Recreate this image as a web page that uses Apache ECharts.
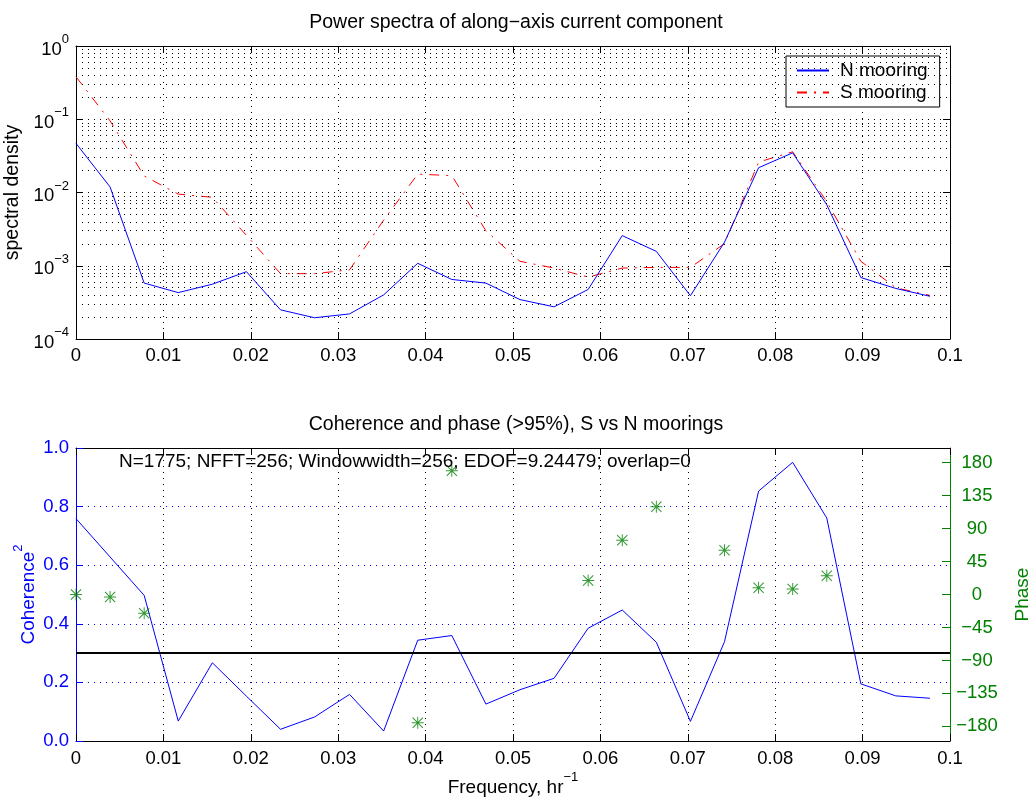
<!DOCTYPE html>
<html><head><meta charset="utf-8">
<script src="https://cdn.jsdelivr.net/npm/echarts@6/dist/echarts.min.js"></script>
<style>html,body{margin:0;padding:0;background:#fff}#c{width:1031px;height:800px}</style>
</head><body><div id="c"></div>
<script>
// ---- data ----
const freq = [0, 0.0039, 0.0078, 0.0117, 0.0156, 0.0195, 0.0234, 0.0273, 0.0313, 0.0352, 0.0391, 0.0430, 0.0469,
  0.0508, 0.0547, 0.0586, 0.0625, 0.0664, 0.0703, 0.0742, 0.0781, 0.0820, 0.0859, 0.0898, 0.0938, 0.0977];
const specN = [0.0468, 0.0119, 5.8e-4, 4.3e-4, 5.6e-4, 8.3e-4, 2.5e-4, 1.95e-4, 2.2e-4, 4.0e-4, 1.08e-3, 6.5e-4, 5.8e-4,
  3.45e-4, 2.75e-4, 4.75e-4, 2.58e-3, 1.57e-3, 3.9e-4, 2.1e-3, 0.0218, 0.0348, 6.8e-3, 6.9e-4, 4.9e-4, 3.83e-4];
const specS = [0.38, 0.095, 0.0168, 9.5e-3, 8.6e-3, 2.6e-3, 7.8e-4, 7.8e-4, 8.8e-4, 4.2e-3, 0.0178, 0.0170, 3.0e-3,
  1.15e-3, 9.3e-4, 7.0e-4, 9.3e-4, 9.5e-4, 9.5e-4, 2.0e-3, 0.026, 0.036, 7.5e-3, 1.15e-3, 5.0e-4, 3.94e-4];
const coherence = [0.759, 0.628, 0.497, 0.068, 0.267, 0.153, 0.040, 0.082, 0.159, 0.034, 0.344, 0.360, 0.126,
  0.175, 0.214, 0.385, 0.447, 0.337, 0.067, 0.339, 0.853, 0.951, 0.761, 0.195, 0.154, 0.146];
const phase = [0, -3.4, -25.6, null, null, null, null, null, null, null, -175, 169, null,
  null, null, 19.2, 74, 119.8, null, 60.5, 9.3, 7.5, 25.6, null, null, null];
const cohThreshold = 0.305;
const seriesNames = ['N mooring', 'S mooring'];
const phaseTicks = [-180, -135, -90, -45, 0, 45, 90, 135, 180];
const titles = ['Power spectra of along\u2212axis current component', 'Coherence and phase (>95%), S vs N moorings'];
const note = 'N=1775; NFFT=256; Windowwidth=256; EDOF=9.24479; overlap=0';

// ---- styling helpers ----
const FONT = '"Liberation Sans", Arial, Helvetica, sans-serif';
const FS = 18.5;
const BLUE = '#0000ff', RED = '#ff0000', GREEN = '#008000';
const minus = v => v < 0 ? '\u2212' + Math.abs(v) : String(v);
const fmtX = v => String(+v.toFixed(3));
// minor log grid positions (2..9 x each decade), expressed as log10 for a helper linear axis
const minorLogExp = [];
for (let d = -4; d < 0; d++) for (let m = 2; m <= 9; m++) minorLogExp.push(d + Math.log10(m));

const asterisk = 'path://M9.2 0L10.8 0L10.8 20L9.2 20Z M0 9.2L20 9.2L20 10.8L0 10.8Z M2.1 0.9L19.1 17.9L17.9 19.1L0.9 2.1Z M17.9 0.9L19.1 2.1L2.1 19.1L0.9 17.9Z';

const tickStyle = c => ({ show: true, inside: true, length: 7, lineStyle: { color: c, width: 1 } });
const labelStyle = c => ({ color: c, fontSize: FS, fontFamily: FONT });
const dottedSplit = c => ({ show: true, lineStyle: { color: c, type: [1, 5], width: 1 } });
const axLine = c => ({ show: true, onZero: false, lineStyle: { color: c, width: 1 } });

const chart = echarts.init(document.getElementById('c'), null, { renderer: 'canvas' });
chart.setOption({
  animation: false,
  backgroundColor: '#fff',
  grid: [
    { left: 76, right: 81, top: 46, height: 293, outerBoundsMode: 'none', containLabel: false },
    { left: 76, right: 81, top: 448, height: 293, outerBoundsMode: 'none', containLabel: false }
  ],
  legend: {
    data: seriesNames, orient: 'vertical', left: 786, top: 56,
    borderColor: '#000', borderWidth: 1, backgroundColor: '#fff', borderRadius: 0,
    padding: [5, 12, 5, 10], itemWidth: 32, itemHeight: 14, itemGap: 3,
    itemStyle: { color: 'rgba(0,0,0,0)', borderWidth: 0, opacity: 0 },
    textStyle: { fontSize: 19, fontFamily: FONT, color: '#000', padding: [0, 0, 0, 6] }
  },
  xAxis: [
    { gridIndex: 0, type: 'value', position: 'bottom', min: 0, max: 0.1, interval: 0.01,
      axisLine: axLine('#000'), axisTick: tickStyle('#000'),
      axisLabel: Object.assign(labelStyle('#000'), { margin: 7, formatter: fmtX }),
      splitLine: dottedSplit('#000') },
    { gridIndex: 0, type: 'value', position: 'top', min: 0, max: 0.1, interval: 0.01,
      axisLine: axLine('#000'), axisTick: tickStyle('#000'),
      axisLabel: { show: false }, splitLine: { show: false } },
    { gridIndex: 1, type: 'value', position: 'bottom', min: 0, max: 0.1, interval: 0.01,
      axisLine: axLine('#000'), axisTick: tickStyle('#000'),
      axisLabel: Object.assign(labelStyle('#000'), { margin: 8, formatter: fmtX }),
      splitLine: dottedSplit('#000'),
      name: '{a|Frequency, hr}{s|\u22121}', nameLocation: 'middle', nameGap: 30,
      nameTextStyle: { color: '#000', fontFamily: FONT, fontSize: 19,
        rich: { a: { fontSize: 19, fontFamily: FONT, color: '#000', lineHeight: 26, verticalAlign: 'bottom' },
                s: { fontSize: 13, fontFamily: FONT, color: '#000', lineHeight: 14, verticalAlign: 'top' } } } },
    { gridIndex: 1, type: 'value', position: 'top', min: 0, max: 0.1, interval: 0.01,
      axisLine: axLine('#000'), axisTick: tickStyle('#000'),
      axisLabel: { show: false }, splitLine: { show: false } }
  ],
  yAxis: [
    { gridIndex: 0, type: 'log', logBase: 10, min: 1e-4, max: 1, position: 'left',
      axisLine: axLine('#000'), axisTick: tickStyle('#000'),
      axisLabel: { margin: 7, formatter: v => '{b|10}{s|' + minus(Math.round(Math.log10(v))) + '}',
        rich: { b: { fontSize: FS, fontFamily: FONT, color: '#000', lineHeight: 26, verticalAlign: 'bottom' },
                s: { fontSize: 13, fontFamily: FONT, color: '#000', lineHeight: 14, verticalAlign: 'top' } } },
      splitLine: dottedSplit('#000'),
      name: 'spectral density', nameLocation: 'middle', nameGap: 44, nameRotate: 90,
      nameTextStyle: { color: '#000', fontSize: 19.5, fontFamily: FONT } },
    { gridIndex: 0, type: 'log', logBase: 10, min: 1e-4, max: 1, position: 'right',
      axisLine: axLine('#000'), axisTick: tickStyle('#000'),
      axisLabel: { show: false }, splitLine: { show: false } },
    { gridIndex: 1, type: 'value', min: 0, max: 1, interval: 0.2, position: 'left',
      axisLine: axLine(BLUE), axisTick: tickStyle(BLUE),
      axisLabel: Object.assign(labelStyle(BLUE), { margin: 7, formatter: v => v.toFixed(1) }),
      splitLine: dottedSplit(BLUE),
      name: '{a|Coherence}{s|2}', nameLocation: 'middle', nameGap: 38, nameRotate: 90, nameMoveOverlap: false,
      nameTextStyle: { color: BLUE, fontFamily: FONT, fontSize: 19,
        rich: { a: { fontSize: 19, fontFamily: FONT, color: BLUE, lineHeight: 26, verticalAlign: 'bottom' },
                s: { fontSize: 13, fontFamily: FONT, color: BLUE, lineHeight: 14, verticalAlign: 'top' } } } },
    { gridIndex: 1, type: 'value', min: -200, max: 200, position: 'right',
      axisLine: axLine(GREEN),
      axisTick: Object.assign(tickStyle(GREEN), { length: 8, customValues: phaseTicks }),
      axisLabel: Object.assign(labelStyle(GREEN), { margin: 27, align: 'center', customValues: phaseTicks, formatter: minus }),
      splitLine: { show: false },
      name: 'Phase', nameLocation: 'middle', nameGap: 63, nameRotate: 90,
      nameTextStyle: { color: GREEN, fontSize: 19, fontFamily: FONT } },
    // helper linear axis in log10 units, used only to place the minor log grid lines
    { gridIndex: 0, type: 'value', min: -4, max: 0, show: false, position: 'left', offset: 0,
      axisLine: { show: false, onZero: false }, axisTick: { show: false }, axisLabel: { show: false }, splitLine: { show: false } }
  ],
  graphic: [
    { type: 'text', x: 516, y: 23, z: 100, style: { text: titles[0], font: '19.5px ' + FONT, fill: '#000', align: 'center', verticalAlign: 'middle' } },
    { type: 'text', x: 516, y: 425, z: 100, style: { text: titles[1], font: '19.5px ' + FONT, fill: '#000', align: 'center', verticalAlign: 'middle' } },
    { type: 'text', x: 119, y: 462, z: 100, style: { text: note, font: '19px ' + FONT, fill: '#000', align: 'left', verticalAlign: 'middle' } }
  ],
  series: [
    { name: seriesNames[0], type: 'line', xAxisIndex: 0, yAxisIndex: 0, symbol: 'none', showSymbol: false,
      data: freq.map((f, i) => [f, specN[i]]), lineStyle: { color: BLUE, width: 1 }, itemStyle: { color: BLUE },
      z: 5 },
    { name: seriesNames[1], type: 'line', xAxisIndex: 0, yAxisIndex: 0, symbol: 'none', showSymbol: false,
      data: freq.map((f, i) => [f, specS[i]]), lineStyle: { color: RED, width: 1, type: [10, 7, 2, 7] }, itemStyle: { color: RED },
      z: 4 },
    { name: 'minorGrid', type: 'line', xAxisIndex: 0, yAxisIndex: 4, symbol: 'none', showSymbol: false,
      data: [[0, -4]], lineStyle: { opacity: 0 }, silent: true, z: 1,
      markLine: { silent: true, symbol: 'none', label: { show: false }, animation: false,
        lineStyle: { color: '#000', type: [1, 5], width: 1 },
        data: minorLogExp.map(v => ({ yAxis: v })) } },
    { name: 'Coherence', type: 'line', xAxisIndex: 2, yAxisIndex: 2, symbol: 'none', showSymbol: false,
      data: freq.map((f, i) => [f, coherence[i]]), lineStyle: { color: BLUE, width: 1 }, itemStyle: { color: BLUE },
      markLine: { silent: true, symbol: 'none', label: { show: false }, animation: false,
        lineStyle: { color: '#000', type: 'solid', width: 2 }, data: [{ yAxis: cohThreshold }] } },
    { name: 'Phase', type: 'scatter', xAxisIndex: 2, yAxisIndex: 3, symbol: asterisk, symbolSize: 12,
      itemStyle: { color: GREEN }, z: 6,
      data: freq.map((f, i) => [f, phase[i]]).filter(d => d[1] !== null) }
  ]
});
</script></body></html>
